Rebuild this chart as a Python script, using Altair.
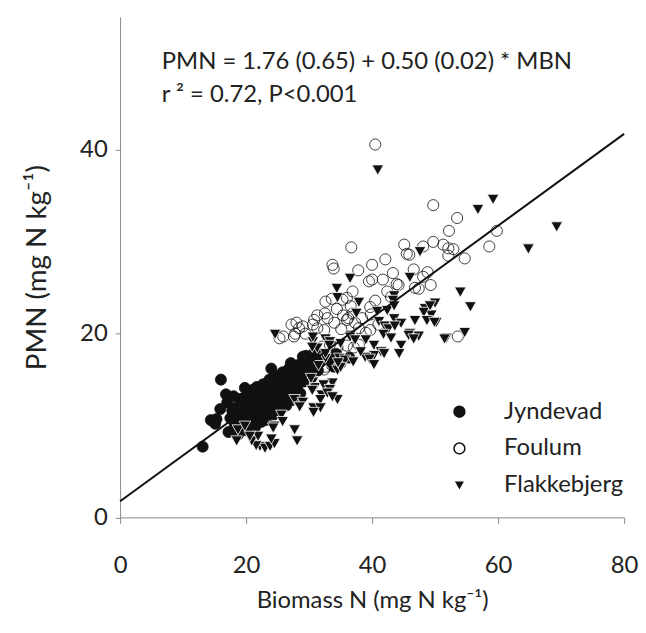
import altair as alt
import pandas as pd

sites = ["Jyndevad", "Foulum", "Flakkebjerg"]

jyn_x = [13.1, 16.0, 16.8, 15.9, 14.4, 15.3, 15.1, 19.8, 21.1, 24.0, 19.1, 18.5, 29.0, 27.1, 30.8, 36.4,
         35.0, 29.5, 31.5, 27.1, 32.4, 34.3,
         17.2, 17.5, 17.8, 17.0, 18.2, 18.4, 18.0, 18.7, 19.0, 19.3, 19.5, 19.2, 19.6,
         20.1, 20.3, 20.5, 20.2, 20.6, 20.0, 21.0, 21.3, 21.5, 21.2, 21.7, 21.4,
         22.0, 22.3, 22.5, 22.2, 22.7, 22.4, 23.0, 23.2, 23.5, 23.3, 23.7, 23.1,
         24.0, 24.3, 24.5, 24.2, 24.7, 24.4, 25.0, 25.3, 25.5, 25.2, 25.8, 25.4,
         26.0, 26.3, 26.6, 26.2, 26.8, 26.4, 27.0, 27.3, 27.6, 27.9, 27.4,
         28.1, 28.4, 28.7, 28.3, 28.6, 29.2, 29.5, 29.8, 29.3, 30.2, 30.5, 30.8,
         31.4, 31.8, 33.5, 34.0]
jyn_y = [7.7, 15.0, 13.4, 11.8, 10.6, 10.7, 10.2, 14.1, 13.9, 16.2, 12.9, 12.0, 17.5, 16.8, 17.9, 17.4,
         16.8, 17.6, 17.8, 16.3, 17.3, 17.8,
         9.3, 10.8, 11.6, 12.5, 10.0, 11.1, 13.2, 9.0, 10.6, 11.5, 12.4, 9.4, 13.0,
         10.2, 11.0, 11.9, 12.8, 13.5, 9.5, 10.8, 11.6, 12.4, 13.1, 14.2, 9.8,
         11.2, 12.0, 12.8, 13.6, 14.5, 10.4, 11.5, 12.3, 13.1, 14.0, 15.0, 10.6,
         12.0, 12.8, 13.6, 14.5, 15.4, 11.2, 12.4, 13.2, 14.0, 14.9, 15.8, 11.7,
         13.0, 13.8, 14.6, 15.5, 16.2, 12.2, 13.6, 14.4, 15.1, 15.9, 12.8,
         14.2, 15.0, 15.8, 16.6, 13.5, 14.8, 15.6, 16.4, 17.1, 15.4, 16.3, 17.0,
         16.0, 16.9, 17.0, 16.4]

fou_x = [40.5, 49.7, 53.5, 52.2, 59.8, 58.6, 36.7, 45.1, 45.5, 45.9, 48.1, 49.7, 51.3, 52.1, 52.9, 52.1,
         54.7, 42.1, 40.0, 33.7, 33.9, 37.8, 40.0, 41.7, 43.3, 46.6, 48.8, 43.9, 47.4, 49.3, 36.9, 42.4,
         53.6, 25.3, 27.2, 28.0, 28.4, 27.8, 29.4, 32.6, 33.6, 34.4, 35.3, 36.0, 36.6, 35.4, 36.9, 36.2,
         32.9, 34.0, 31.3, 32.4, 32.1, 33.3, 34.5, 36.0, 37.1, 32.6, 33.7, 39.7, 39.8, 37.3, 36.0, 35.1,
         37.9, 39.7, 37.9, 31.3, 32.5, 29.0, 30.6, 44.2, 46.8, 48.1, 25.9, 27.6, 39.0, 34.2, 32.4, 39.5,
         41.0, 40.5, 43.0, 30.8, 38.4]
fou_y = [40.6, 34.0, 32.6, 31.2, 31.2, 29.5, 29.4, 29.7, 28.7, 28.6, 29.5, 30.0, 29.7, 29.3, 29.2, 28.5,
         28.2, 28.1, 27.5, 27.5, 27.1, 26.9, 25.9, 25.9, 26.6, 27.0, 26.7, 25.4, 24.9, 25.3, 24.6, 24.6,
         19.7, 19.5, 21.0, 21.2, 20.6, 20.0, 20.0, 23.5, 23.8, 22.7, 23.7, 23.9, 23.0, 22.0, 22.2, 21.7,
         21.7, 21.2, 20.6, 20.4, 18.6, 18.8, 18.5, 18.7, 18.5, 16.4, 16.5, 22.9, 22.1, 21.2, 21.5, 20.5,
         20.6, 20.4, 18.8, 22.0, 22.2, 20.8, 21.0, 25.3, 25.0, 26.2, 19.7, 19.7, 20.1, 18.5, 16.1, 25.7,
         21.0, 23.6, 24.0, 21.5, 21.7]

fla_x = [40.9, 56.8, 59.2, 69.3, 64.8, 47.6, 36.5, 34.4, 46.0, 54.0, 55.6, 43.5, 43.3, 50.0, 48.4, 49.4,
         50.2, 54.7, 51.8, 46.8, 46.0, 47.4, 24.6, 30.6, 30.6, 32.6, 33.3, 35.0, 36.6, 32.6, 34.8, 30.6,
         30.9, 33.7, 37.9, 37.5, 40.8, 42.4, 43.5, 41.1, 42.0, 43.5, 44.6, 42.6, 43.6, 48.2, 49.2, 48.7,
         49.9, 34.5, 36.5, 39.0, 41.8, 43.0, 44.6, 45.8, 46.6, 51.5, 40.3, 41.4, 40.3, 41.9, 38.9, 31.3,
         30.5, 32.6, 34.8, 35.7, 34.5, 35.0, 30.3, 30.5, 32.3, 32.0, 33.3, 31.8, 27.7, 29.0, 28.5, 30.7,
         31.8, 30.7, 25.6, 24.5, 25.8, 27.7, 28.1, 24.3, 22.2, 23.0, 23.8, 24.5, 24.0, 21.6, 20.9, 21.9,
         18.5, 18.7, 19.8, 20.6, 32.9, 34.5, 33.7, 37.3, 38.2, 44.3, 33.2, 37.0, 31.5, 34.6, 39.6, 40.3]
fla_y = [37.9, 33.6, 34.7, 31.7, 29.3, 29.0, 26.1, 25.0, 26.2, 24.6, 23.0, 24.2, 23.7, 23.4, 22.8, 22.1,
         21.3, 20.2, 19.6, 21.5, 20.1, 19.8, 20.0, 19.2, 19.7, 19.5, 19.2, 19.0, 19.9, 17.4, 16.3, 14.8,
         14.2, 14.7, 23.5, 22.3, 22.5, 22.6, 23.1, 21.4, 20.9, 21.7, 21.2, 20.6, 20.9, 22.4, 23.1, 21.5,
         21.3, 24.0, 19.7, 19.4, 20.0, 19.6, 18.8, 19.9, 19.5, 19.5, 18.8, 18.1, 17.7, 17.9, 17.5, 18.5,
         18.6, 17.9, 17.4, 17.2, 16.1, 16.4, 15.2, 13.9, 14.5, 13.4, 14.0, 12.9, 12.9, 12.6, 12.1, 12.0,
         12.0, 11.5, 11.2, 10.0, 10.5, 9.6, 8.4, 9.8, 7.8, 7.6, 7.8, 8.1, 8.6, 7.9, 8.4, 8.9,
         8.4, 9.6, 10.0, 8.9, 13.6, 12.9, 13.2, 19.4, 18.1, 17.9, 18.8, 17.0, 16.6, 16.9, 17.3, 16.7]

intercept = 1.76
slope = 0.50
line_x = [0, 80]

eq_line1 = "PMN = 1.76 (0.65) + 0.50 (0.02) * MBN"
eq_line2 = "r \u00b2 = 0.72, P<0.001"

x_title = "Biomass N (mg N kg\u207b\u00b9)"
y_title = "PMN (mg N kg\u207b\u00b9)"

frames = []
for s, xs, ys in zip(sites, [jyn_x, fou_x, fla_x], [jyn_y, fou_y, fla_y]):
    frames.append(pd.DataFrame({"site": s, "mbn": xs, "pmn": ys}))
df = pd.concat(frames, ignore_index=True)

line_df = pd.DataFrame({"mbn": line_x, "pmn": [intercept + slope * v for v in line_x]})

FONT = "Lato"
xs_ = alt.Scale(domain=[0, 80], nice=False)
ys_ = alt.Scale(domain=[0, 54.5], nice=False)

tri_down = "M-1.05,-0.8L1.05,-0.8L0,1.05Z"

leg = alt.Legend(title=None, orient="none", legendX=330, legendY=386,
                 labelFontSize=24, labelFont=FONT, labelColor="#222222",
                 rowPadding=13, labelOffset=33, symbolSize=120)

points = alt.Chart(df).mark_point(filled=True, opacity=1, size=125, strokeWidth=0.8).encode(
    x=alt.X("mbn:Q", scale=xs_,
            axis=alt.Axis(values=[0, 20, 40, 60, 80], title=x_title, tickSize=6,
                          labelPadding=31, titlePadding=11, labelFlush=False)),
    y=alt.Y("pmn:Q", scale=ys_,
            axis=alt.Axis(values=[0, 20, 40], title=y_title, tickSize=5,
                          labelPadding=8, titlePadding=28, labelFlush=False,
                          titleFontSize=28)),
    shape=alt.Shape("site:N", scale=alt.Scale(domain=sites, range=["circle", "circle", tri_down]), legend=leg),
    fill=alt.Fill("site:N", scale=alt.Scale(domain=sites, range=["#111111", "transparent", "#111111"]), legend=leg),
    stroke=alt.Stroke("site:N", scale=alt.Scale(domain=sites, range=["#111111", "#111111", "#ffffff"]), legend=leg),
    order=alt.Order("order_idx:Q"),
).transform_calculate(order_idx="datum.site == 'Jyndevad' ? 0 : (datum.site == 'Foulum' ? 1 : 2)")

reg = alt.Chart(line_df).mark_line(color="#111111", strokeWidth=2).encode(
    x=alt.X("mbn:Q", scale=xs_), y=alt.Y("pmn:Q", scale=ys_))

t1 = alt.Chart(alt.Data(values=[{}])).mark_text(
    text=eq_line1, align="left", baseline="middle", font=FONT, fontSize=24, color="#222222"
).encode(x=alt.value(42), y=alt.value(45.5))
t2 = alt.Chart(alt.Data(values=[{}])).mark_text(
    text=eq_line2, align="left", baseline="middle", font=FONT, fontSize=24, color="#222222"
).encode(x=alt.value(42), y=alt.value(78.5))

chart = alt.layer(points, reg, t1, t2).properties(
    width=508, height=504.5,
    autosize=alt.AutoSizeParams(type="none"),
    padding={"left": 113, "top": 6.5, "right": 14, "bottom": 105},
).configure_view(stroke=None).configure_axis(
    grid=False, domainColor="#888888", tickColor="#888888", domainWidth=1,
    labelFont=FONT, labelFontSize=24, labelColor="#222222",
    titleFont=FONT, titleFontSize=24, titleFontWeight="normal", titleColor="#222222",
)

chart.save("out.html", embed_options={"renderer": "svg", "actions": False})
